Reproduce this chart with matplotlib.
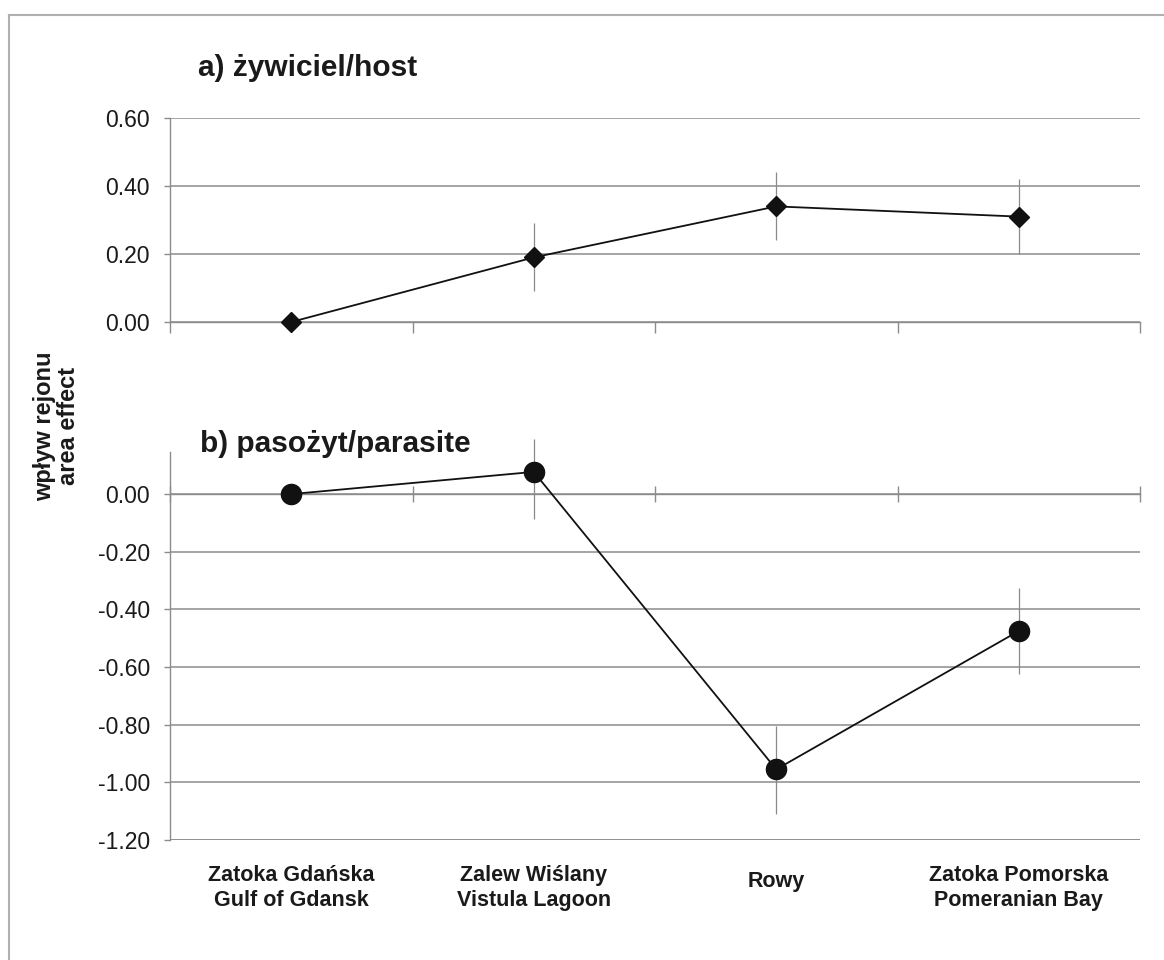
import matplotlib
matplotlib.use("Agg")
import matplotlib.pyplot as plt
from matplotlib.lines import Line2D
from matplotlib.transforms import blended_transform_factory
import numpy as np

plt.rcParams['font.family'] = ['Liberation Sans', 'DejaVu Sans']

# ---- data ----
categories = ["Zatoka Gdańska\nGulf of Gdansk", "Zalew Wiślany\nVistula Lagoon",
              "Rowy", "Zatoka Pomorska\nPomeranian Bay"]
host_values = [0.00, 0.19, 0.34, 0.31]
host_err_low = [0.00, 0.10, 0.10, 0.11]
host_err_high = [0.00, 0.10, 0.10, 0.11]
parasite_values = [0.00, 0.077, -0.955, -0.475]
parasite_err_low = [0.00, 0.165, 0.155, 0.15]
parasite_err_high = [0.00, 0.113, 0.15, 0.15]
host_ticks = [0.0, 0.2, 0.4, 0.6]
host_ticklabels = ["0.00", "0.20", "0.40", "0.60"]
par_ticks = [-1.2, -1.0, -0.8, -0.6, -0.4, -0.2, 0.0]
par_ticklabels = ["-1.20", "-1.00", "-0.80", "-0.60", "-0.40", "-0.20", "0.00"]
title_a = "a) żywiciel/host"
title_b = "b) pasożyt/parasite"
ylabel = "wpływ rejonu\narea effect"

W, H = 1164, 960
fig = plt.figure(figsize=(W / 100, H / 100), dpi=100)

def fx(px):
    return px / W

def fy(py):
    return 1 - py / H

GRID = "#8c8c8c"
SPINE = "#8c8c8c"
ERR = "#8a8a8a"
TXT = "#1a1a1a"
x = np.arange(len(categories)) + 0.5

left, right = 170, 1140
axA = fig.add_axes([fx(left), fy(322), fx(right - left), (322 - 118) / H])
axB = fig.add_axes([fx(left), fy(840), fx(right - left), (840 - 452) / H])

for ax in (axA, axB):
    ax.set_xlim(0, len(categories))
    for s in ("top", "right"):
        ax.spines[s].set_visible(False)
    ax.spines["left"].set_color(SPINE)
    ax.spines["left"].set_linewidth(1.0)
    ax.spines["bottom"].set_color(SPINE)
    ax.spines["bottom"].set_linewidth(1.0)
    ax.set_xticks(np.arange(len(categories) + 1))
    ax.set_xticklabels([])
    ax.tick_params(axis="y", direction="out", length=4, width=1.0, color=SPINE,
                   labelsize=16.5, labelcolor=TXT, pad=10.5)
    ax.set_axisbelow(True)

# top panel
axA.set_ylim(0, 0.6)
axA.set_yticks(host_ticks)
axA.set_yticklabels(host_ticklabels)
axA.yaxis.grid(True, color=GRID, linewidth=1.1)
axA.tick_params(axis="x", direction="out", length=8, width=1.0, color=SPINE)
axA.errorbar(x, host_values, yerr=[host_err_low, host_err_high], fmt="none",
             ecolor=ERR, elinewidth=0.9, capsize=0, zorder=2)
axA.plot(x, host_values, color="#111111", linewidth=1.3, marker="D",
         markersize=10.5, markerfacecolor="#111111", markeredgecolor="#111111",
         zorder=3, clip_on=False)

# bottom panel
axB.set_ylim(-1.2, 0.146)
axB.set_yticks(par_ticks)
axB.set_yticklabels(par_ticklabels)
axB.yaxis.grid(True, color=GRID, linewidth=1.1)
axB.spines["bottom"].set_position(("data", 0.0))
axB.tick_params(axis="x", direction="inout", length=11, width=1.0, color=SPINE)
axB.axhline(-1.2, color=GRID, linewidth=1.1, zorder=0.5)
axB.errorbar(x, parasite_values, yerr=[parasite_err_low, parasite_err_high], fmt="none",
             ecolor=ERR, elinewidth=0.9, capsize=0, zorder=2, clip_on=False)
axB.plot(x, parasite_values, color="#111111", linewidth=1.3, marker="o",
         markersize=14.5, markerfacecolor="#111111", markeredgecolor="#111111",
         zorder=3, clip_on=False)

# titles
fig.text(fx(198), fy(76), title_a, fontsize=21.5, fontweight="bold", color=TXT,
         ha="left", va="baseline")
fig.text(fx(200), fy(452), title_b, fontsize=21.5, fontweight="bold", color=TXT,
         ha="left", va="baseline")

# y label
fig.text(fx(57), fy(426), ylabel, fontsize=17, fontweight="bold", color=TXT,
         rotation=90, ha="center", va="center", multialignment="center",
         linespacing=1.05)

# category labels
tr = blended_transform_factory(axB.transData, fig.transFigure)
for xi, lab in zip(x, categories):
    top = 871 if "\n" not in lab else 865
    axB.text(xi, fy(top), lab, transform=tr, fontsize=15.5, fontweight="bold",
             color=TXT, ha="center", va="top",
             multialignment="center", linespacing=1.25)

# border (top and left)
fig.add_artist(Line2D([fx(9), 1], [fy(15), fy(15)], color="#b0b0b0", linewidth=1.5,
                      transform=fig.transFigure))
fig.add_artist(Line2D([fx(9), fx(9)], [fy(15), 0], color="#b0b0b0", linewidth=1.5,
                      transform=fig.transFigure))

fig.savefig("out.png", dpi=100, facecolor="white")
